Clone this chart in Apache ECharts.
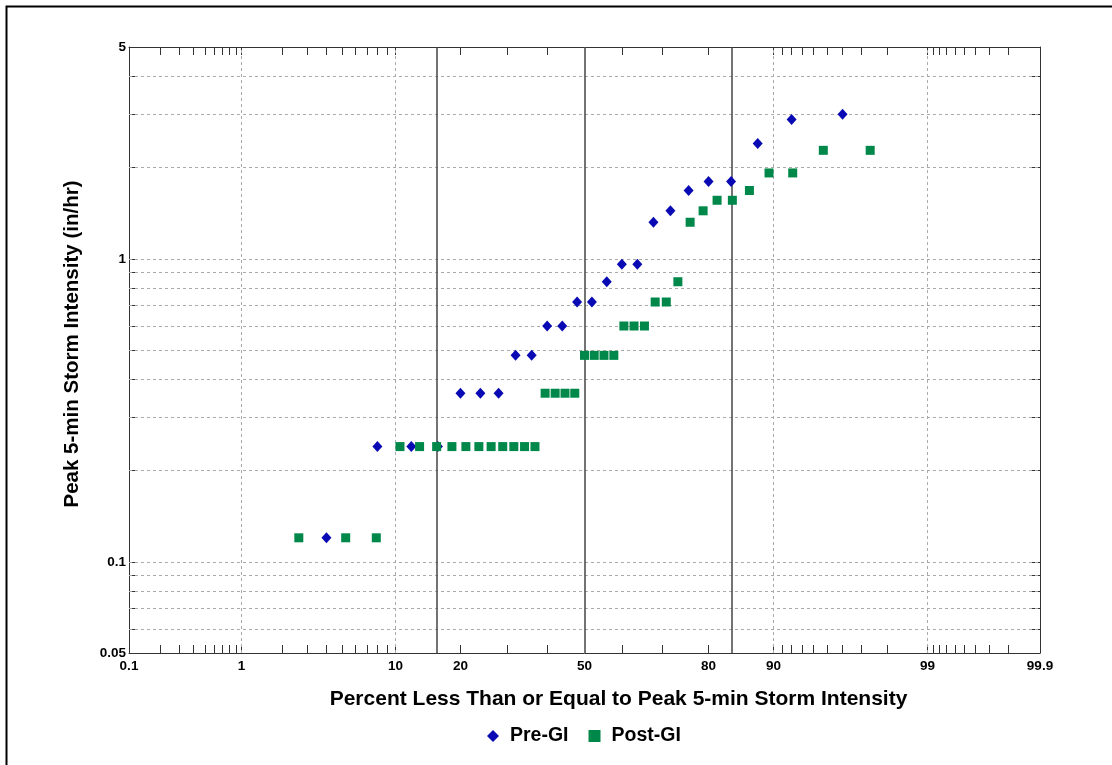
<!DOCTYPE html>
<html>
<head>
<meta charset="utf-8">
<script src="https://cdn.jsdelivr.net/npm/echarts@6/dist/echarts.min.js"></script>
<style>
html,body{margin:0;padding:0;background:#fff;}
#chart{width:1112px;height:765px;}
</style>
</head>
<body>
<div id="chart"></div>
<script>
// ---------------- data ----------------
const preGIPercent = [4, 8, 12, 16, 20, 24, 28, 32, 36, 40, 44, 48, 52, 56, 60, 64, 68, 72, 76, 80, 84, 88, 92, 96];
const preGIValue = [0.12, 0.24, 0.24, 0.24, 0.36, 0.36, 0.36, 0.48, 0.48, 0.6, 0.6, 0.72, 0.72, 0.84, 0.96, 0.96, 1.32, 1.44, 1.68, 1.8, 1.8, 2.4, 2.88, 3.0];
const postGIPercent = [2.63, 5.26, 7.89, 10.53, 13.16, 15.79, 18.42, 21.05, 23.68, 26.32, 28.95, 31.58, 34.21, 36.84, 39.47, 42.11, 44.74, 47.37, 50, 52.63, 55.26, 57.89, 60.53, 63.16, 65.79, 68.42, 71.05, 73.68, 76.32, 78.95, 81.58, 84.21, 86.84, 89.47, 92.11, 94.74, 97.37];
const postGIValue = [0.12, 0.12, 0.12, 0.24, 0.24, 0.24, 0.24, 0.24, 0.24, 0.24, 0.24, 0.24, 0.24, 0.24, 0.36, 0.36, 0.36, 0.36, 0.48, 0.48, 0.48, 0.48, 0.6, 0.6, 0.6, 0.72, 0.72, 0.84, 1.32, 1.44, 1.56, 1.56, 1.68, 1.92, 1.92, 2.28, 2.28];

const xLabelPercents = [0.1, 1, 10, 20, 50, 80, 90, 99, 99.9];
const xLabelTexts = ['0.1', '1', '10', '20', '50', '80', '90', '99', '99.9'];
const xTickPercents = [0.2, 0.3, 0.4, 0.5, 0.6, 0.7, 0.8, 0.9, 1, 2, 3, 4, 5, 6, 7, 8, 9, 10, 20, 30, 40, 60, 70, 80, 90, 91, 92, 93, 94, 95, 96, 97, 98, 99, 99.1, 99.2, 99.3, 99.4, 99.5, 99.6, 99.7, 99.8];
const xGridPercents = [1, 10, 90, 99];
const sigmaPercents = [15.87, 50, 84.13];
const xRangePercent = [0.1, 99.9];

const yRange = [0.05, 5];
const yLabelValues = [0.05, 0.1, 1, 5];
const yGridValues = [0.06, 0.07, 0.08, 0.09, 0.1, 0.2, 0.3, 0.4, 0.5, 0.6, 0.7, 0.8, 0.9, 1, 2, 3, 4];

// -------------- scales --------------
function probit(p) {
  const a = [-3.969683028665376e+01, 2.209460984245205e+02, -2.759285104469687e+02, 1.383577518672690e+02, -3.066479806614716e+01, 2.506628277459239e+00];
  const b = [-5.447609879822406e+01, 1.615858368580409e+02, -1.556989798598866e+02, 6.680131188771972e+01, -1.328068155288572e+01];
  const c = [-7.784894002430293e-03, -3.223964580411365e-01, -2.400758277161838e+00, -2.549732539343734e+00, 4.374664141464968e+00, 2.938163982698783e+00];
  const d = [7.784695709041462e-03, 3.224671290700398e-01, 2.445134137142996e+00, 3.754408661907416e+00];
  const plow = 0.02425, phigh = 1 - plow;
  let q, r;
  if (p < plow) {
    q = Math.sqrt(-2 * Math.log(p));
    return (((((c[0]*q+c[1])*q+c[2])*q+c[3])*q+c[4])*q+c[5]) / ((((d[0]*q+d[1])*q+d[2])*q+d[3])*q+1);
  }
  if (p <= phigh) {
    q = p - 0.5; r = q * q;
    return (((((a[0]*r+a[1])*r+a[2])*r+a[3])*r+a[4])*r+a[5])*q / (((((b[0]*r+b[1])*r+b[2])*r+b[3])*r+b[4])*r+1);
  }
  q = Math.sqrt(-2 * Math.log(1 - p));
  return -(((((c[0]*q+c[1])*q+c[2])*q+c[3])*q+c[4])*q+c[5]) / ((((d[0]*q+d[1])*q+d[2])*q+d[3])*q+1);
}
const X = pct => probit(pct / 100);
const Y = v => Math.log10(v);

const xMin = X(xRangePercent[0]), xMax = X(xRangePercent[1]);
const yMin = Y(yRange[0]), yMax = Y(yRange[1]);

const xLabelZ = xLabelPercents.map(X);
function xFmt(v) {
  let best = 0, bd = Infinity;
  xLabelZ.forEach((z, i) => { const dd = Math.abs(z - v); if (dd < bd) { bd = dd; best = i; } });
  return xLabelTexts[best];
}
function yFmt(v) { return String(parseFloat(Math.pow(10, v).toPrecision(3))); }

const FONT = '"Liberation Sans", Arial, Helvetica, sans-serif';
const tickStyle = { show: true, inside: true, length: 8, lineStyle: { color: '#333', width: 1 } };
const axisLineStyle = { show: true, onZero: false, lineStyle: { color: '#333', width: 1 } };

function xAxisDef(pos, labels) {
  return {
    type: 'value', position: pos, min: xMin, max: xMax,
    axisLine: axisLineStyle,
    axisTick: Object.assign({ customValues: xTickPercents.map(X) }, tickStyle),
    axisLabel: labels ? { show: true, customValues: xLabelZ, formatter: xFmt, fontFamily: FONT, fontWeight: 'bold', fontSize: 13.5, color: '#000', margin: 6 } : { show: false },
    splitLine: { show: false },
    name: labels ? 'Percent Less Than or Equal to Peak 5-min Storm Intensity' : '',
    nameLocation: 'middle', nameGap: 36,
    nameTextStyle: { fontFamily: FONT, fontWeight: 'bold', fontSize: 21, color: '#000', padding: [0, 0, 0, 68] }
  };
}
function yAxisDef(pos, labels) {
  return {
    type: 'value', position: pos, min: yMin, max: yMax,
    axisLine: axisLineStyle,
    axisTick: Object.assign({ customValues: yGridValues.map(Y) }, tickStyle),
    axisLabel: labels ? { show: true, customValues: yLabelValues.map(Y), formatter: yFmt, fontFamily: FONT, fontWeight: 'bold', fontSize: 13.5, color: '#000', margin: 3 } : { show: false },
    splitLine: { show: false },
    name: labels ? 'Peak 5-min Storm Intensity (in/hr)' : '',
    nameLocation: 'middle', nameGap: 46,
    nameTextStyle: { fontFamily: FONT, fontWeight: 'bold', fontSize: 20.5, color: '#000', padding: [0, 0, 0, 12] }
  };
}

const gridLines = [];
xGridPercents.forEach(p => gridLines.push({ coords: [[X(p), yMin], [X(p), yMax]] }));
yGridValues.forEach(v => gridLines.push({ coords: [[xMin, Y(v)], [xMax, Y(v)]] }));
const sigmaLines = sigmaPercents.map(p => ({ coords: [[X(p), yMin], [X(p), yMax]] }));

const chart = echarts.init(document.getElementById('chart'), null, { renderer: 'canvas' });
chart.setOption({
  animation: false,
  backgroundColor: '#fff',
  grid: { left: 129, right: 72, top: 47, bottom: 112, containLabel: false },
  xAxis: [xAxisDef('bottom', true), xAxisDef('top', false)],
  yAxis: [yAxisDef('left', true), yAxisDef('right', false)],
  legend: {
    top: 721, left: 482, itemGap: 20, itemWidth: 12, itemHeight: 12,
    textStyle: { fontFamily: FONT, fontWeight: 'bold', fontSize: 19.5, color: '#000', padding: [0, 0, 0, 6] },
    data: [{ name: 'Pre-GI', icon: 'diamond' }, { name: 'Post-GI', icon: 'rect' }]
  },
  graphic: [{
    type: 'rect', left: 4, top: 4, silent: true,
    shape: { x: 0, y: 0, width: 1200, height: 800 },
    style: { fill: 'none', stroke: '#000', lineWidth: 2 }
  }],
  series: [
    {
      type: 'lines', coordinateSystem: 'cartesian2d', silent: true, z: 1,
      lineStyle: { color: '#aaa', width: 1, type: [3, 3], opacity: 1 },
      data: gridLines
    },
    {
      type: 'lines', coordinateSystem: 'cartesian2d', silent: true, z: 1,
      lineStyle: { color: '#444', width: 1.5, type: 'solid', opacity: 1 },
      data: sigmaLines
    },
    {
      name: 'Pre-GI', type: 'scatter', z: 3, symbol: 'diamond', symbolSize: [10, 11],
      itemStyle: { color: '#0a0ab4', opacity: 1 },
      data: preGIPercent.map((p, i) => [X(p), Y(preGIValue[i])])
    },
    {
      name: 'Post-GI', type: 'scatter', z: 3, symbol: 'rect', symbolSize: 9,
      itemStyle: { color: '#00884a', opacity: 1 },
      data: postGIPercent.map((p, i) => [X(p), Y(postGIValue[i])])
    }
  ]
});
</script>
</body>
</html>
